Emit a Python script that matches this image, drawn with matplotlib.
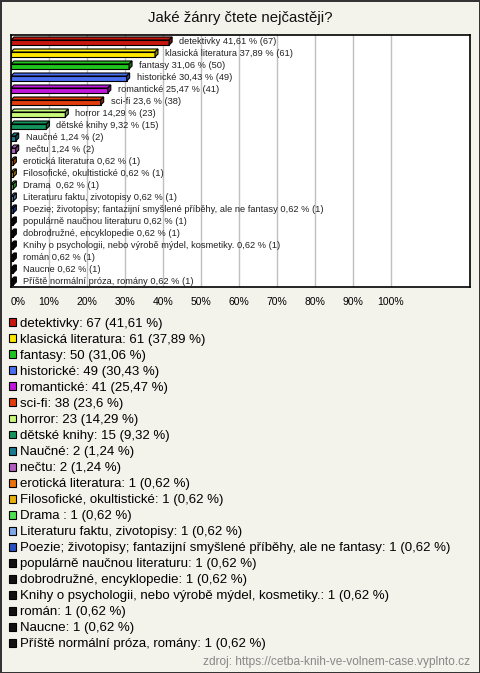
import matplotlib
matplotlib.use("Agg")
import matplotlib.pyplot as plt
import matplotlib.patches as patches
import matplotlib.colors as mcolors

# data
names = ["detektivky", "klasická literatura", "fantasy", "historické", "romantické",
         "sci-fi", "horror", "dětské knihy", "Naučné", "nečtu",
         "erotická literatura", "Filosofické, okultistické", "Drama ",
         "Literaturu faktu, zivotopisy",
         "Poezie; životopisy; fantazijní smyšlené příběhy, ale ne fantasy",
         "populárně naučnou literaturu", "dobrodružné, encyklopedie",
         "Knihy o psychologii, nebo výrobě mýdel, kosmetiky.", "román", "Naucne",
         "Příště normální próza, romány"]
counts = [67, 61, 50, 49, 41, 38, 23, 15, 2, 2, 1, 1, 1, 1, 1, 1, 1, 1, 1, 1, 1]
percents = [41.61, 37.89, 31.06, 30.43, 25.47, 23.6, 14.29, 9.32, 1.24, 1.24,
            0.62, 0.62, 0.62, 0.62, 0.62, 0.62, 0.62, 0.62, 0.62, 0.62, 0.62]
pct_labels = ["41,61", "37,89", "31,06", "30,43", "25,47", "23,6", "14,29", "9,32",
              "1,24", "1,24", "0,62", "0,62", "0,62", "0,62", "0,62", "0,62",
              "0,62", "0,62", "0,62", "0,62", "0,62"]
colors = ["#c8170f", "#ffe800", "#1fc41f", "#4a6ef0", "#c018d8", "#e23c0c",
          "#c8f87a", "#14935a", "#1a7a8e", "#b25ec0", "#e8720c", "#e8b00c",
          "#50e050", "#80a8e8", "#2a50c0", "#111111", "#111111", "#111111",
          "#111111", "#111111", "#111111"]
ticks = [0, 10, 20, 30, 40, 50, 60, 70, 80, 90, 100]

W, H = 480, 673
bg = "#f3f2eb"
plt.rcParams['font.family'] = ['Liberation Sans', 'DejaVu Sans']

fig = plt.figure(figsize=(W / 100, H / 100), dpi=100, facecolor=bg,
                 edgecolor="#333333", linewidth=2)

ax_l, ax_r, ax_t, ax_b = 11, 470, 35, 287
ax = fig.add_axes([ax_l / W, 1 - ax_b / H, (ax_r - ax_l) / W, (ax_b - ax_t) / H])
ax.set_facecolor("white")
xmax = (ax_r - ax_l) / 3.8
ax.set_xlim(0, xmax)
n = len(names)
ax.set_ylim(n - 0.5, -0.5)

# 3d depth in data units
px_x = xmax / (ax_r - ax_l)
px_y = n / (ax_b - ax_t)
dx = 3 * px_x
dy = 3 * px_y
h = 5 * px_y

for i in range(n):
    v = percents[i]
    c = colors[i]
    dark = [x * 0.6 for x in mcolors.to_rgb(c)]
    top = i + dy / 2 - h / 2
    ax.barh(i + dy / 2, v, height=h, color=c, edgecolor="black", linewidth=0.8, zorder=3)
    ax.add_patch(patches.Polygon([(0, top), (v, top), (v + dx, top - dy), (dx, top - dy)],
                                 closed=True, facecolor=c, edgecolor="black",
                                 linewidth=0.8, zorder=3))
    ax.add_patch(patches.Polygon([(v, top), (v + dx, top - dy), (v + dx, top - dy + h), (v, top + h)],
                                 closed=True, facecolor=dark, edgecolor="black",
                                 linewidth=0.8, zorder=3))
    ax.annotate("%s %s %% (%d)" % (names[i], pct_labels[i], counts[i]),
                xy=(v + dx, i), xytext=(5, 0), textcoords="offset points",
                va="center", ha="left", fontsize=6.7, color="#222222", zorder=4)

ax.set_xticks(ticks)
ax.set_xticklabels(["%d%%" % t for t in ticks], fontsize=7.5)
ax.get_xticklabels()[0].set_horizontalalignment("left")
ax.tick_params(axis="x", length=0, pad=7)
ax.set_yticks([])
ax.grid(axis="x", color="#c0c0c0", linewidth=1, zorder=0)
for s in ax.spines.values():
    s.set_linewidth(1.2)
    s.set_color("black")

fig.text(0.5, 1 - 18 / H, "Jaké žánry čtete nejčastěji?", ha="center", va="center",
         fontsize=10.8, color="#111111")

handles = [patches.Patch(facecolor=colors[i], edgecolor="black", linewidth=0.8,
                         label="%s: %d (%s %%)" % (names[i], counts[i], pct_labels[i]))
           for i in range(n)]
fig.legend(handles=handles, loc="upper left", bbox_to_anchor=(9 / W, 1 - 318 / H),
           frameon=False, fontsize=9.5, handlelength=0.55, handleheight=0.55,
           handletextpad=0.3, labelspacing=0.305, borderaxespad=0, borderpad=0)

fig.text(470 / W, 1 - 662 / H, "zdroj: https://cetba-knih-ve-volnem-case.vyplnto.cz",
         ha="right", va="center", fontsize=8.6, color="#888888")

fig.savefig("out.png", dpi=100, facecolor=bg)
